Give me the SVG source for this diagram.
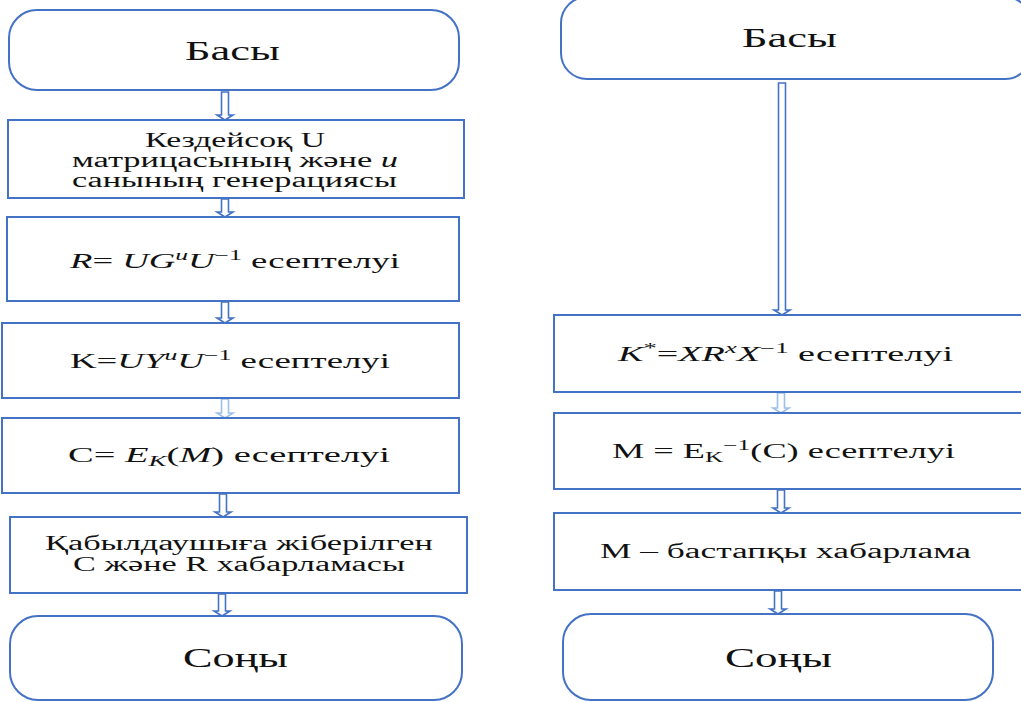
<svg xmlns="http://www.w3.org/2000/svg" width="1021" height="702" viewBox="0 0 1021 702">
<style>
.box{fill:#fff;stroke:#4472C4;stroke-width:2}
.t{font-family:"Liberation Serif","Times New Roman",serif;fill:#111;text-anchor:start}
.big{font-size:27px}
.mid{font-size:20px}
.it{font-style:italic}
.arr{fill:#fff;stroke:#4472C4;stroke-width:1.6}
.arrl{fill:#fff;stroke:#9CC0EA;stroke-width:1.6}
</style>
<rect width="1021" height="702" fill="#fff"/>
<g id="connectors">
<path class="arr" d="M221.5,92 V115 H217 L225,120 L233,115 H228.5 V92 Z"/>
<path class="arr" d="M221.5,199 V212 H217 L225,217 L233,212 H228.5 V199 Z"/>
<path class="arr" d="M221.5,302 V318 H217 L225,323 L233,318 H228.5 V302 Z"/>
<path class="arrl" d="M221.5,399 V413 H217 L225,418 L233,413 H228.5 V399 Z"/>
<path class="arr" d="M219.5,494 V512 H215 L223,517 L231,512 H226.5 V494 Z"/>
<path class="arr" d="M218.5,594 V611 H214 L222,616 L230,611 H225.5 V594 Z"/>
<path class="arr" d="M778.5,83 V310 H774 L782,315 L790,310 H785.5 V83 Z"/>
<path class="arrl" d="M777.5,393 V408 H773 L781,413 L789,408 H784.5 V393 Z"/>
<path class="arr" d="M777.5,490 V508 H773 L781,513 L789,508 H784.5 V490 Z"/>
<path class="arr" d="M774.5,591 V609 H770 L778,614 L786,609 H781.5 V591 Z"/>
</g>
<g id="start-left">
<rect class="box" x="9" y="10" width="450" height="80" rx="28"/>
<text class="t big" x="185" y="60" textLength="95" lengthAdjust="spacingAndGlyphs">Басы</text>
</g>
<g id="gen-u">
<rect class="box" x="8" y="120" width="456" height="78"/>
<text class="t mid" x="145" y="147" textLength="180" lengthAdjust="spacingAndGlyphs">Кездейсоқ U</text>
<text class="t mid" x="72" y="167" textLength="326" lengthAdjust="spacingAndGlyphs">матрицасының және <tspan class="it">u</tspan></text>
<text class="t mid" x="72" y="187" textLength="325" lengthAdjust="spacingAndGlyphs">санының генерациясы</text>
</g>
<g id="calc-r">
<rect class="box" x="7" y="217" width="452" height="84"/>
<text class="t mid" x="70" y="268" textLength="330" lengthAdjust="spacingAndGlyphs"><tspan class="it">R</tspan>= <tspan class="it">UG</tspan><tspan class="it" font-size="14" dy="-8">u</tspan><tspan class="it" dy="8">U</tspan><tspan font-size="14" dy="-8">−1</tspan><tspan dy="8"> есептелуі</tspan></text>
</g>
<g id="calc-k">
<rect class="box" x="2" y="323" width="457" height="75"/>
<text class="t mid" x="70" y="368" textLength="320" lengthAdjust="spacingAndGlyphs">K=<tspan class="it">UY</tspan><tspan class="it" font-size="14" dy="-8">u</tspan><tspan class="it" dy="8">U</tspan><tspan font-size="14" dy="-8">−1</tspan><tspan dy="8"> есептелуі</tspan></text>
</g>
<g id="calc-c">
<rect class="box" x="2" y="418" width="457" height="75"/>
<text class="t mid" x="68" y="462" textLength="322" lengthAdjust="spacingAndGlyphs">C=  <tspan class="it">E</tspan><tspan class="it" font-size="14" dy="4">K</tspan><tspan dy="-4">(</tspan><tspan class="it">M</tspan>)  есептелуі</text>
</g>
<g id="send">
<rect class="box" x="10" y="517" width="457" height="76"/>
<text class="t mid" x="45" y="550" textLength="388" lengthAdjust="spacingAndGlyphs">Қабылдаушыға жіберілген</text>
<text class="t mid" x="73" y="571" textLength="332" lengthAdjust="spacingAndGlyphs">C және R хабарламасы</text>
</g>
<g id="end-left">
<rect class="box" x="10" y="616" width="452" height="84" rx="28"/>
<text class="t big" x="183" y="667" textLength="105" lengthAdjust="spacingAndGlyphs">Соңы</text>
</g>
<g id="start-right">
<rect class="box" x="561" y="-3" width="470" height="82" rx="26"/>
<text class="t big" x="742" y="47" textLength="95" lengthAdjust="spacingAndGlyphs">Басы</text>
</g>
<g id="calc-kstar">
<rect class="box" x="554" y="315" width="470" height="77"/>
<text class="t mid" x="618" y="361" textLength="335" lengthAdjust="spacingAndGlyphs"><tspan class="it">K</tspan><tspan font-size="14" dy="-8">*</tspan><tspan dy="8">=</tspan><tspan class="it">XR</tspan><tspan class="it" font-size="14" dy="-8">x</tspan><tspan class="it" dy="8">X</tspan><tspan font-size="14" dy="-8">−1</tspan><tspan dy="8">  есептелуі</tspan></text>
</g>
<g id="calc-m">
<rect class="box" x="554" y="413" width="470" height="76"/>
<text class="t mid" x="612" y="458" textLength="343" lengthAdjust="spacingAndGlyphs">M =  E<tspan font-size="14" dy="4">K</tspan><tspan font-size="14" dy="-12">−1</tspan><tspan dy="8">(C) есептелуі</tspan></text>
</g>
<g id="original">
<rect class="box" x="554" y="513" width="470" height="77"/>
<text class="t mid" x="600" y="558" textLength="371" lengthAdjust="spacingAndGlyphs">M – бастапқы хабарлама</text>
</g>
<g id="end-right">
<rect class="box" x="563" y="614" width="430" height="86" rx="28"/>
<text class="t big" x="725" y="667" textLength="107" lengthAdjust="spacingAndGlyphs">Соңы</text>
</g>
</svg>
